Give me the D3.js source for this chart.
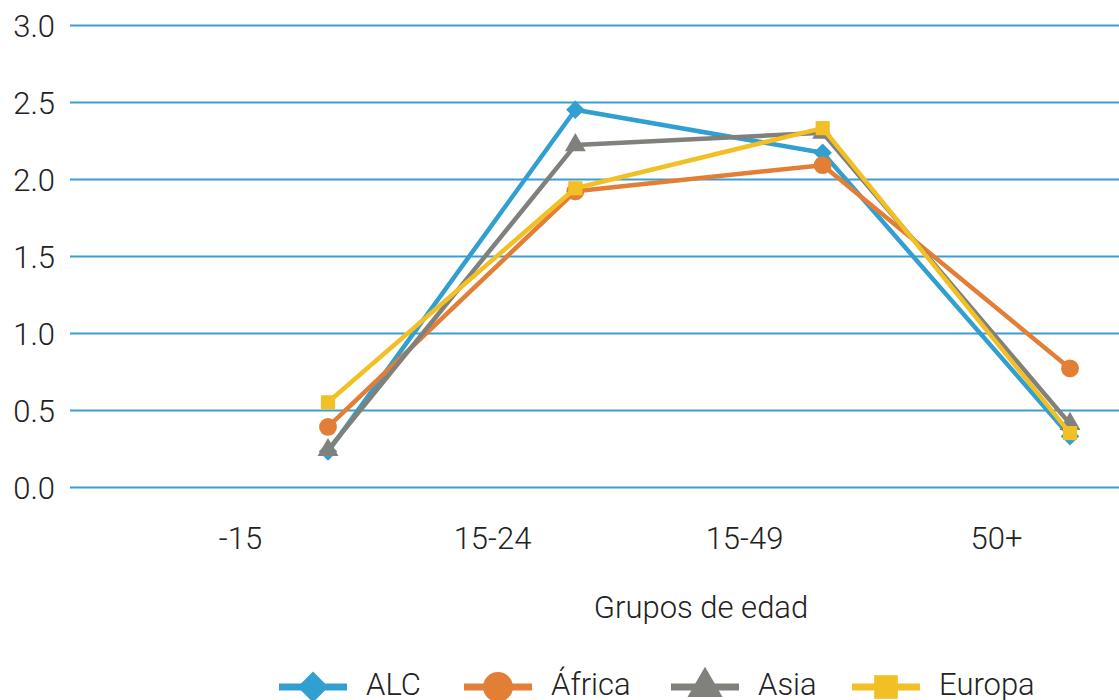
<!DOCTYPE html>
<html>
<head>
<meta charset="utf-8">
<script src="https://cdn.jsdelivr.net/npm/d3@7"></script>
<style>
  body { margin: 0; background: #fff; }
  text { font-family: Roboto, sans-serif; font-weight: 300; fill: #222; }
</style>
</head>
<body>
<svg width="1119" height="700"></svg>
<script>
// Data
var groups = ["-15", "15-24", "15-49", "50+"];
var seriesNames = ["ALC", "África", "Asia", "Europa"];
var alc    = [0.23, 2.45, 2.17, 0.33];
var africa = [0.39, 1.92, 2.09, 0.77];
var asia   = [0.24, 2.22, 2.30, 0.41];
var europa = [0.55, 1.94, 2.33, 0.35];
var yTicks = [0, 0.5, 1, 1.5, 2, 2.5, 3];

var colors = ["#319fcf", "#e27e35", "#80807c", "#f2c024"];
var symbols = [d3.symbolSquare, d3.symbolCircle, d3.symbolTriangle, d3.symbolSquare];
var symSizes = [170, 250, 190, 200];
var symRot = [45, 0, 0, 0];

var series = [alc, africa, asia, europa].map(function (v, i) {
  return { name: seriesNames[i], values: v, color: colors[i], symbol: symbols[i], size: symSizes[i], rot: symRot[i] };
});

var svg = d3.select("svg");
var fontSize = "31px";

// scales
var y = d3.scaleLinear().domain([0, 3]).range([487, 25]);
var xPts = d3.scalePoint().domain(groups).range([328, 1070]);
var xLab = d3.scalePoint().domain(groups).range([240, 996]);

// gridlines
svg.append("g")
  .attr("transform", "translate(70,0)")
  .call(d3.axisLeft(y).tickValues(yTicks).tickSize(-1049).tickFormat(d3.format(".1f")))
  .call(function (g) {
    g.select(".domain").remove();
    g.selectAll(".tick line").attr("stroke", "#3a9fd0").attr("stroke-width", 2);
    g.selectAll(".tick text").attr("x", -15).attr("dy", "0.36em")
      .style("font-size", fontSize).style("font-family", "Roboto").style("font-weight", 300).attr("fill", "#222");
  });

// x labels
svg.append("g")
  .attr("transform", "translate(0,549)")
  .call(d3.axisBottom(xLab).tickSize(0))
  .call(function (g) {
    g.select(".domain").remove();
    g.selectAll(".tick text").attr("y", 0).attr("dy", 0)
      .style("font-size", fontSize).style("font-family", "Roboto").style("font-weight", 300).attr("fill", "#222");
  });

svg.append("text")
  .attr("x", 701).attr("y", 618)
  .attr("text-anchor", "middle")
  .style("font-size", fontSize)
  .text("Grupos de edad");

// lines
var line = d3.line()
  .x(function (d, i) { return xPts(groups[i]); })
  .y(function (d) { return y(d); });

series.forEach(function (s) {
  var g = svg.append("g");
  g.append("path")
    .attr("d", line(s.values))
    .attr("fill", "none")
    .attr("stroke", s.color)
    .attr("stroke-width", 4.5)
    .attr("stroke-linejoin", "round");
  g.selectAll("path.m")
    .data(s.values)
    .enter()
    .append("path")
    .attr("class", "m")
    .attr("transform", function (d, i) {
      return "translate(" + xPts(groups[i]) + "," + y(d) + ") rotate(" + s.rot + ")";
    })
    .attr("d", d3.symbol().type(s.symbol).size(s.size))
    .attr("fill", s.color);
});

// legend
var legX = [279, 464, 671, 852];
var leg = svg.append("g").attr("transform", "translate(0,687)");
series.forEach(function (s, i) {
  var g = leg.append("g").attr("transform", "translate(" + legX[i] + ",0)");
  g.append("line").attr("x1", 0).attr("x2", 68)
    .attr("stroke", s.color).attr("stroke-width", 7);
  g.append("path")
    .attr("transform", "translate(34,0) rotate(" + s.rot + ")")
    .attr("d", d3.symbol().type(s.symbol).size(s.size * 2.8))
    .attr("fill", s.color);
  g.append("text")
    .attr("x", 87).attr("y", 8)
    .style("font-size", fontSize)
    .text(s.name);
});
</script>
</body>
</html>
